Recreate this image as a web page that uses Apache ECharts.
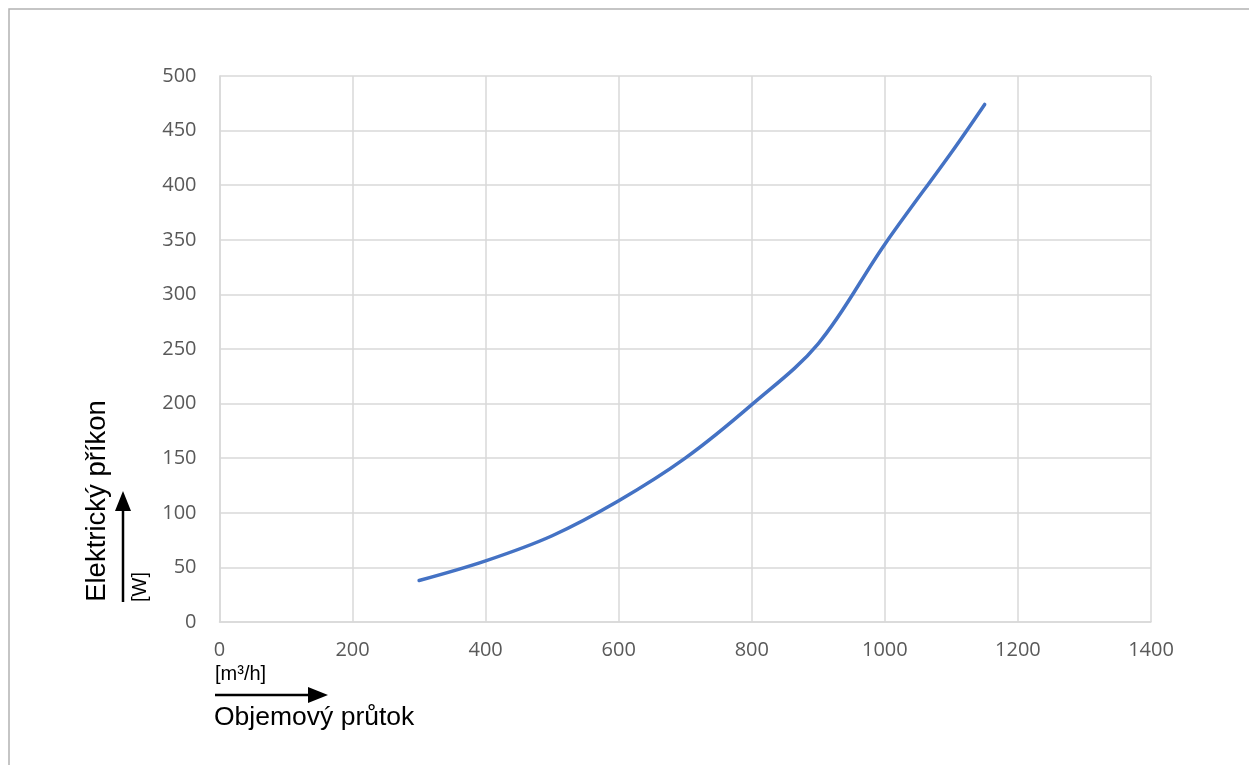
<!DOCTYPE html>
<html>
<head>
<meta charset="utf-8">
<script src="https://cdn.jsdelivr.net/npm/echarts@6/dist/echarts.min.js"></script>
<style>
html,body{margin:0;padding:0;background:#fff;}
#chart{width:1249px;height:765px;}
</style>
</head>
<body>
<div id="chart"></div>
<script>
// Data
var flowValues = [300, 400, 500, 600, 700, 800, 900, 1000, 1100, 1150];   // m³/h
var powerValues = [38, 56, 79, 111, 150, 199, 255, 346, 430, 474];         // W
var xTicks = [0, 200, 400, 600, 800, 1000, 1200, 1400];
var yTicks = [0, 50, 100, 150, 200, 250, 300, 350, 400, 450, 500];
var xTitle = 'Objemový průtok';
var xUnit = '[m³/h]';
var yTitle = 'Elektrický příkon';
var yUnit = '[W]';

var seriesData = flowValues.map(function (x, i) { return [x, powerValues[i]]; });

var chart = echarts.init(document.getElementById('chart'), null, {renderer: 'canvas'});
var labelFont = '"Open Sans", "Noto Sans", sans-serif';
var titleFont = '"Liberation Sans", Arial, sans-serif';
var gridColor = '#d9d9d9';

chart.setOption({
  animation: false,
  backgroundColor: '#ffffff',
  grid: {left: 219.5, right: 98, top: 76, bottom: 143, containLabel: false},
  xAxis: {
    type: 'value',
    min: xTicks[0], max: xTicks[xTicks.length - 1], interval: xTicks[1] - xTicks[0],
    axisLine: {show: true, lineStyle: {color: gridColor, width: 1.5}},
    axisTick: {show: false},
    splitLine: {show: true, lineStyle: {color: gridColor, width: 1.5}},
    axisLabel: {color: '#595959', fontSize: 20, fontFamily: labelFont, margin: 18,
                formatter: function (v) { return String(v); }}
  },
  yAxis: {
    type: 'value',
    min: yTicks[0], max: yTicks[yTicks.length - 1], interval: yTicks[1] - yTicks[0],
    axisLine: {show: true, lineStyle: {color: gridColor, width: 1.5}},
    axisTick: {show: false},
    splitLine: {show: true, lineStyle: {color: gridColor, width: 1.5}},
    axisLabel: {color: '#595959', fontSize: 20, fontFamily: labelFont, margin: 23,
                formatter: function (v) { return String(v); }}
  },
  series: [{
    type: 'line',
    data: seriesData,
    smooth: 0.35,
    showSymbol: false,
    lineStyle: {color: '#4472C4', width: 3.5, cap: 'round'},
    z: 5
  }],
  graphic: [
    {type: 'rect', shape: {x: 9, y: 9, width: 1260, height: 780},
     style: {fill: 'none', stroke: '#b3b3b3', lineWidth: 1.5}, silent: true},
    // x-axis title and arrow
    {type: 'text', left: 215, top: 664, style: {text: xUnit, font: '20px ' + titleFont, fill: '#000'}},
    {type: 'line', shape: {x1: 215, y1: 695, x2: 310, y2: 695}, style: {stroke: '#000', lineWidth: 2.5}},
    {type: 'polygon', shape: {points: [[308, 687], [328, 695], [308, 703]]}, style: {fill: '#000'}},
    {type: 'text', left: 214, top: 704, style: {text: xTitle, font: '26.5px ' + titleFont, fill: '#000'}},
    // y-axis title and arrow
    {type: 'text', x: 97, y: 501, rotation: Math.PI / 2,
     style: {text: yTitle, font: '27.5px ' + titleFont, fill: '#000', align: 'center', verticalAlign: 'middle'}},
    {type: 'line', shape: {x1: 123, y1: 602, x2: 123, y2: 508}, style: {stroke: '#000', lineWidth: 2.5}},
    {type: 'polygon', shape: {points: [[115, 511], [123, 491], [131, 511]]}, style: {fill: '#000'}},
    {type: 'text', x: 140, y: 602, rotation: Math.PI / 2,
     style: {text: yUnit, font: '20px ' + titleFont, fill: '#000', align: 'left', verticalAlign: 'middle'}}
  ]
});
</script>
</body>
</html>
